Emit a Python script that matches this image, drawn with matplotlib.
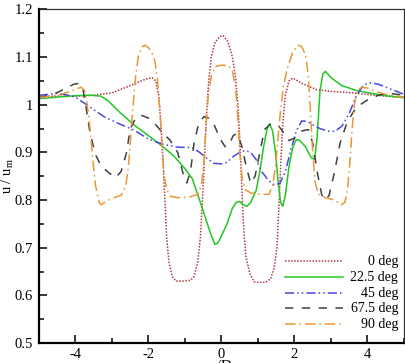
import matplotlib
matplotlib.use('Agg')
import matplotlib.pyplot as plt
from matplotlib.ticker import MultipleLocator, FuncFormatter

plt.rcParams['font.family'] = ['Liberation Serif', 'DejaVu Serif']
plt.rcParams['mathtext.fontset'] = 'custom'
plt.rcParams['mathtext.rm'] = 'Liberation Serif'
plt.rcParams['axes.unicode_minus'] = False

# 0 deg
x0 = [-5.0, -4.5, -4.0, -3.5, -3.0, -2.6, -2.3, -2.1, -1.9, -1.8, -1.72, -1.66, -1.6, -1.55,
      -1.5, -1.44, -1.35, -1.25, -1.0, -0.85, -0.75, -0.65, -0.58, -0.52, -0.46, -0.41, -0.35,
      -0.28, -0.18, -0.05, 0.05, 0.18, 0.3, 0.38, 0.45, 0.5, 0.55, 0.6, 0.67, 0.78, 0.9, 1.2,
      1.35, 1.45, 1.52, 1.57, 1.62, 1.68, 1.75, 1.85, 1.95, 2.2, 2.6, 3.0, 3.6, 4.2, 5.0]
u0 = [1.018, 1.018, 1.018, 1.02, 1.025, 1.037, 1.047, 1.053, 1.057, 1.05, 1.02, 0.96, 0.88, 0.8,
      0.72, 0.67, 0.64, 0.63, 0.63, 0.632, 0.64, 0.67, 0.72, 0.8, 0.9, 0.98, 1.05,
      1.1, 1.13, 1.143, 1.145, 1.132, 1.1, 1.06, 1.0, 0.93, 0.84, 0.75, 0.68, 0.645, 0.628, 0.627,
      0.635, 0.66, 0.7, 0.78, 0.87, 0.96, 1.02, 1.05, 1.056, 1.045, 1.032, 1.028, 1.025, 1.02, 1.015]

# 22.5 deg
x22 = [-5.0, -4.5, -4.0, -3.6, -3.3, -3.1, -2.8, -2.4, -2.0, -1.6, -1.3, -1.0, -0.8, -0.6,
       -0.45, -0.3, -0.18, -0.1, 0.0, 0.15, 0.3, 0.4, 0.5, 0.6, 0.7, 0.8, 0.95, 1.05, 1.15,
       1.25, 1.32, 1.4, 1.48, 1.55, 1.62, 1.68, 1.75, 1.85, 1.95, 2.05, 2.15, 2.3, 2.45, 2.55,
       2.62, 2.7, 2.78, 2.85, 3.0, 3.3, 3.7, 4.1, 4.5, 5.0]
u22 = [1.013, 1.016, 1.019, 1.02, 1.018, 1.008, 0.985, 0.958, 0.935, 0.912, 0.892, 0.866, 0.845, 0.8,
       0.765, 0.73, 0.707, 0.71, 0.725, 0.75, 0.783, 0.795, 0.797, 0.79, 0.787, 0.795, 0.82, 0.86, 0.91,
       0.95, 0.96, 0.945, 0.9, 0.84, 0.795, 0.787, 0.81, 0.87, 0.91, 0.927, 0.925, 0.912, 0.89, 0.885,
       0.93, 1.03, 1.065, 1.07, 1.057, 1.04, 1.03, 1.024, 1.019, 1.015]

# 45 deg
x45 = [-5.0, -4.7, -4.5, -4.2, -4.0, -3.6, -3.2, -2.8, -2.4, -2.0, -1.6, -1.2, -0.8, -0.6,
       -0.4, -0.2, 0.0, 0.15, 0.35, 0.5, 0.65, 0.8, 0.95, 1.1, 1.3, 1.45, 1.6, 1.75, 1.9,
       2.05, 2.2, 2.35, 2.5, 2.7, 2.9, 3.1, 3.3, 3.5, 3.7, 3.9, 4.1, 4.3, 4.6, 5.0]
u45 = [1.02, 1.022, 1.024, 1.02, 1.016, 0.995, 0.974, 0.96, 0.947, 0.928, 0.917, 0.911, 0.91, 0.9,
       0.888, 0.877, 0.876, 0.879, 0.893, 0.9, 0.904, 0.9, 0.885, 0.86, 0.84, 0.832, 0.835, 0.86, 0.905,
       0.945, 0.966, 0.965, 0.958, 0.95, 0.945, 0.944, 0.955, 0.982, 1.02, 1.042, 1.046, 1.043, 1.034, 1.022]

# 67.5 deg
x67 = [-5.0, -4.6, -4.3, -4.05, -3.9, -3.8, -3.7, -3.6, -3.45, -3.3, -3.1, -2.9, -2.75, -2.6,
       -2.5, -2.35, -2.2, -2.0, -1.8, -1.6, -1.4, -1.2, -1.05, -0.95, -0.85, -0.75, -0.62,
       -0.48, -0.35, -0.2, -0.05, 0.1, 0.2, 0.32, 0.42, 0.55, 0.68, 0.8, 0.92, 1.05, 1.18,
       1.35, 1.55, 1.7, 1.85, 2.0, 2.2, 2.38, 2.5, 2.62, 2.75, 2.85, 2.95, 3.1, 3.25, 3.45,
       3.7, 4.0, 4.3, 4.6, 5.0]
u67 = [1.015, 1.022, 1.033, 1.043, 1.045, 1.035, 0.99, 0.94, 0.895, 0.872, 0.858, 0.847, 0.86, 0.9,
       0.95, 0.972, 0.978, 0.972, 0.958, 0.94, 0.925, 0.9, 0.855, 0.836, 0.86, 0.92, 0.962,
       0.975, 0.972, 0.958, 0.93, 0.912, 0.915, 0.935, 0.94, 0.915, 0.87, 0.835, 0.85, 0.9, 0.948,
       0.96, 0.957, 0.942, 0.925, 0.93, 0.945, 0.948, 0.92, 0.86, 0.81, 0.8, 0.81, 0.86, 0.92, 0.965,
       0.995, 1.01, 1.02, 1.024, 1.02]

# 90 deg
x90 = [-5.0, -4.6, -4.3, -4.0, -3.85, -3.75, -3.68, -3.6, -3.52, -3.45, -3.35, -3.3, -3.1, -2.9,
       -2.75, -2.62, -2.55, -2.48, -2.42, -2.35, -2.28, -2.2, -2.1, -2.0, -1.9, -1.82, -1.75,
       -1.68, -1.62, -1.57, -1.5, -1.4, -1.2, -0.9, -0.65, -0.55, -0.48, -0.42, -0.36, -0.28,
       -0.18, 0.0, 0.2, 0.3, 0.38, 0.44, 0.5, 0.56, 0.65, 0.8, 1.1, 1.3, 1.4, 1.48, 1.55, 1.62,
       1.7, 1.8, 1.95, 2.1, 2.2, 2.3, 2.38, 2.44, 2.5, 2.56, 2.65, 2.85, 3.1, 3.28, 3.38, 3.45,
       3.52, 3.58, 3.64, 3.72, 3.85, 4.0, 4.3, 4.6, 5.0]
u90 = [1.015, 1.018, 1.024, 1.032, 1.037, 1.03, 1.0, 0.95, 0.88, 0.83, 0.795, 0.79, 0.8, 0.806,
       0.81, 0.83, 0.87, 0.94, 1.0, 1.06, 1.1, 1.12, 1.125, 1.12, 1.108, 1.09, 1.05,
       0.98, 0.9, 0.85, 0.822, 0.808, 0.805, 0.806, 0.812, 0.83, 0.88, 0.96, 1.02, 1.06,
       1.08, 1.083, 1.082, 1.07, 1.04, 0.98, 0.9, 0.85, 0.822, 0.815, 0.812, 0.812, 0.83, 0.87, 0.93, 0.99,
       1.04, 1.075, 1.11, 1.125, 1.122, 1.105, 1.06, 0.98, 0.9, 0.84, 0.812, 0.805, 0.8, 0.79, 0.795, 0.82,
       0.88, 0.95, 1.0, 1.03, 1.037, 1.035, 1.026, 1.02, 1.016]

labels = ['0 deg', '22.5 deg', '45 deg', '67.5 deg', '90 deg']
colors = ['#b23a48', '#22c822', '#4848e0', '#404040', '#e89838']
styles = [(0, (1, 1)), '-', (0, (6, 2, 1, 2, 1, 2)), (0, (5.5, 5.5)), (0, (7, 2.5, 1, 2.5))]
series = [(x0, u0), (x22, u22), (x45, u45), (x67, u67), (x90, u90)]

fig = plt.figure(figsize=(4.06, 3.63), dpi=100)
ax = fig.add_axes([0.096, 0.055, 0.899, 0.919])

for (xs, us), c, ls in zip(series, colors, styles):
    ax.plot(xs, us, color=c, linestyle=ls, lw=1.1)

ax.set_xlim(-5, 5)
ax.set_ylim(0.5, 1.2)
ax.xaxis.set_major_locator(MultipleLocator(2))
ax.xaxis.set_minor_locator(MultipleLocator(1))
ax.yaxis.set_major_locator(MultipleLocator(0.1))
ax.yaxis.set_minor_locator(MultipleLocator(0.05))
ax.yaxis.set_major_formatter(FuncFormatter(lambda v, p: '%g' % round(v, 2)))
ax.xaxis.set_major_formatter(FuncFormatter(lambda v, p: '%g' % v))
ax.tick_params(which='both', direction='in', top=False, right=False, labelsize=10.5, width=1.1)
ax.tick_params(which='major', length=6)
ax.tick_params(which='minor', length=3.3)
ax.tick_params(axis='y', pad=4.5)
ax.tick_params(axis='x', pad=3.5)
for s in ['left', 'bottom']:
    ax.spines[s].set_linewidth(1.6)
for s in ['top', 'right']:
    ax.spines[s].set_linewidth(0.9)
    ax.spines[s].set_color('#303030')

ax.set_xlabel('y/D', fontsize=11, labelpad=-1)
ax.set_ylabel(r'u / u$_\mathrm{m}$', fontsize=10.5)
ax.yaxis.set_label_coords(-0.062, 0.5)

# legend, labels right-aligned
rows = [0.245, 0.197, 0.149, 0.104, 0.056]
for lab, c, ls, yr in zip(labels, colors, styles, rows):
    ax.plot([0.674, 0.833], [yr, yr], transform=ax.transAxes, color=c, linestyle=ls, lw=1.1)
    ax.text(0.984, yr, lab, transform=ax.transAxes, ha='right', va='center', fontsize=10)

fig.savefig('out.png', dpi=100)
